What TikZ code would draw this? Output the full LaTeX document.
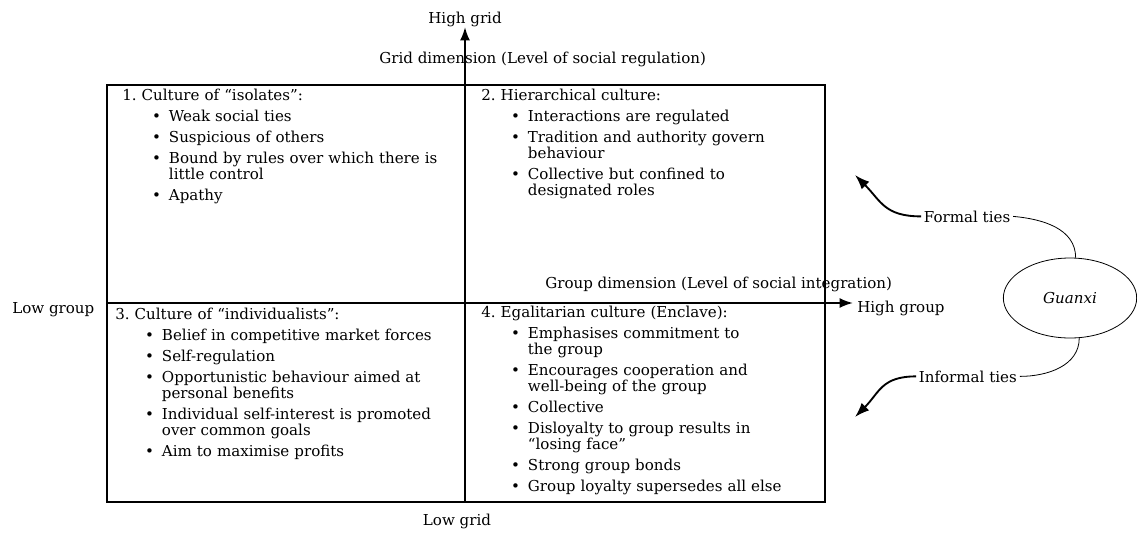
\documentclass[tikz,border=0pt]{standalone}
\usepackage{fontspec}
\setmainfont{DejaVu Serif}
\usepackage{enumitem}
\usetikzlibrary{arrows.meta,shapes.geometric}

\setlist[itemize]{label=\textbullet, leftmargin=35pt, labelsep=6pt,
  topsep=3.75pt, itemsep=3.75pt, parsep=0pt, partopsep=0pt}

\tikzset{
  quad/.style={anchor=north west, text width=262pt, inner sep=0pt,
    align=left, font=\fontsize{11.3}{12}\selectfont\frenchspacing},
  lbl/.style={inner sep=0pt, font=\fontsize{11.3}{12}\selectfont},
  axis/.style={line width=1.5pt, -{Latex[length=10pt,width=7.5pt]}},
  tie/.style={line width=1.4pt, -{Latex[length=11pt,width=8pt]}},
  link/.style={line width=0.6pt},
  boxline/.style={line width=1.5pt}
}

\begin{document}
\begin{tikzpicture}[x=0.75pt,y=0.75pt]
  \useasboundingbox (0,0) rectangle (1137,-532);

  % outer frame of the grid-group matrix
  \draw[boxline] (107,-85) rectangle (825,-502);

  % axes
  \coordinate (gtop) at (465,-502);
  \coordinate (vtip) at (465,-27);
  \coordinate (gleft) at (107,-303);
  \coordinate (htip) at (853,-303);
  \draw[axis] (gtop) -- (vtip);
  \draw[axis] (gleft) -- (htip);

  \node[lbl, anchor=base] (highgrid) at (465,-23) {High grid};
  \node[lbl, anchor=base] (lowgrid) at (457,-525) {Low grid};
  \node[lbl, anchor=base west] (lowgroup) at (12,-313) {Low group};
  \node[lbl, anchor=base west] (highgroup) at (857,-312) {High group};
  \node[lbl, anchor=base west] (griddim) at (379,-63)
    {Grid dimension (Level of social regulation)};
  \node[lbl, anchor=base west] (groupdim) at (545,-288)
    {Group dimension (Level of social integration)};

  % the four cultures
  \node[quad] (q1) at (122,-89) {\noindent 1. Culture of “isolates”:
    \begin{itemize}
      \item Weak social ties
      \item Suspicious of others
      \item Bound by rules over which there is\\ little control
      \item Apathy
    \end{itemize}};
  \node[quad] (q2) at (481,-89) {\noindent 2. Hierarchical culture:
    \begin{itemize}
      \item Interactions are regulated
      \item Tradition and authority govern\\ behaviour
      \item Collective but confined to\\ designated roles
    \end{itemize}};
  \node[quad] (q3) at (115,-308) {\noindent 3. Culture of “individualists”:
    \begin{itemize}
      \item Belief in competitive market forces
      \item Self-regulation
      \item Opportunistic behaviour aimed at\\ personal benefits
      \item Individual self-interest is promoted\\ over common goals
      \item Aim to maximise profits
    \end{itemize}};
  \node[quad] (q4) at (481,-306) {\noindent 4. Egalitarian culture (Enclave):
    \begin{itemize}
      \item Emphasises commitment to\\ the group
      \item Encourages cooperation and\\ well-being of the group
      \item Collective
      \item Disloyalty to group results in\\ “losing face”
      \item Strong group bonds
      \item Group loyalty supersedes all else
    \end{itemize}};

  % guanxi and its ties
  \node[draw, ellipse, line width=0.6pt, minimum width=100pt,
    minimum height=60pt, inner sep=0pt, font=\fontsize{11.3}{12}\selectfont\itshape]
    (guanxi) at (1070,-298) {Guanxi};
  \node[lbl, anchor=base west, inner sep=2pt] (formal) at (921,-222) {Formal ties};
  \node[lbl, anchor=base west, inner sep=2pt] (informal) at (916,-382) {Informal ties};
  \coordinate (ftip) at (855,-175);
  \coordinate (itip) at (855,-417);

  \draw[link] (formal.east) to[out=-5,in=90] (guanxi.82);
  \draw[link] (guanxi.-77) to[out=-90,in=0] (informal.east);
  \draw[tie] (formal.west) to[out=180,in=-45,looseness=1.2] (ftip);
  \draw[tie] (informal.west) to[out=180,in=45,looseness=1.2] (itip);
\end{tikzpicture}
\end{document}
